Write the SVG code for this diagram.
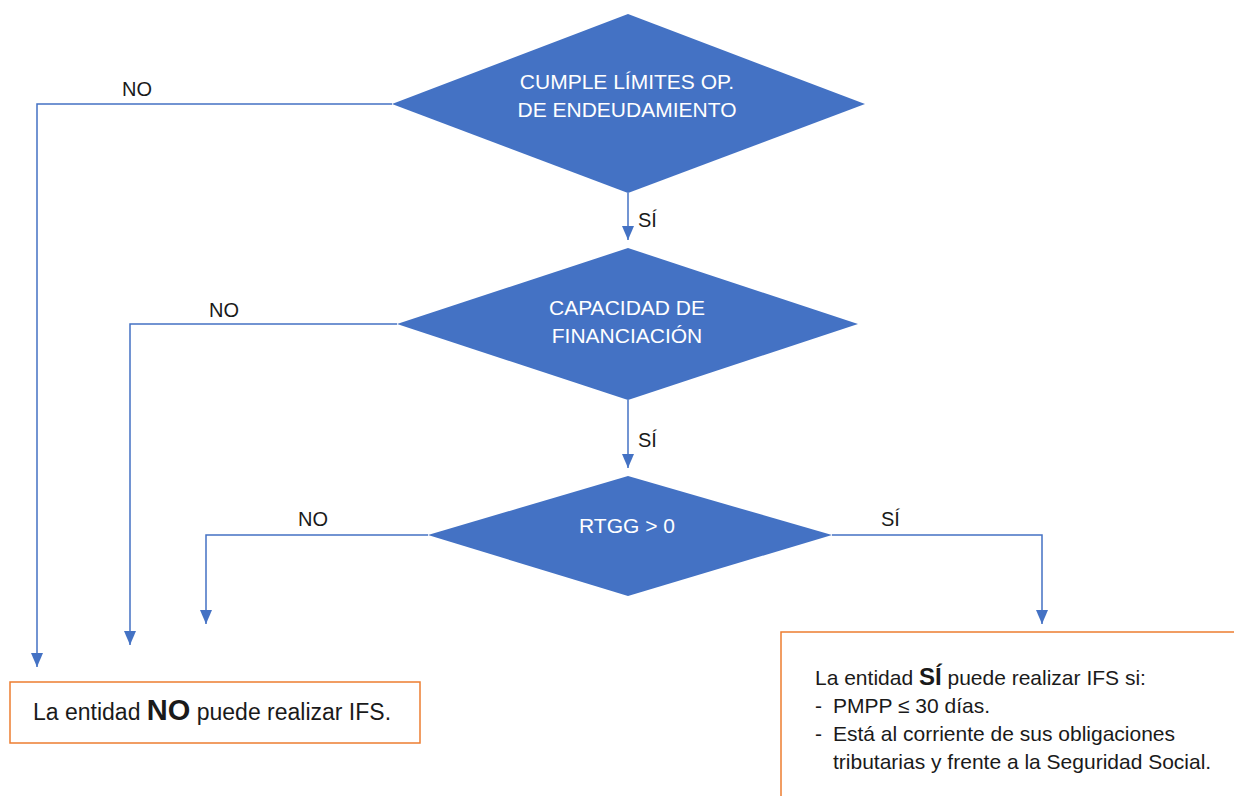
<svg xmlns="http://www.w3.org/2000/svg" width="1234" height="796" viewBox="0 0 1234 796">
<style>
.dia{fill:#4472C4;stroke:none}
.dt{font-family:"Liberation Sans",Arial,sans-serif;font-size:21px;fill:#ffffff;text-anchor:middle}
.con{fill:none;stroke:#4472C4;stroke-width:1.5}
.lab{font-family:"Liberation Sans",Arial,sans-serif;font-size:20px;fill:#1a1a1a}
.box{fill:#ffffff;stroke:#ED7D31;stroke-width:1.5}
.bt{font-family:"Liberation Sans",Arial,sans-serif;font-size:21px;fill:#1a1a1a}
.bt2{font-family:"Liberation Sans",Arial,sans-serif;font-size:23px;fill:#1a1a1a}
.big{font-weight:bold}
</style>
<defs>
<marker id="ah" markerUnits="userSpaceOnUse" markerWidth="14" markerHeight="14" viewBox="0 0 14 14" refX="14" refY="7" orient="auto">
<path d="M0,1 L14,7 L0,13 Z" fill="#4472C4"/>
</marker>
</defs>
<rect width="1234" height="796" fill="#ffffff"/>
<g id="connectors">
<polyline class="con" points="392,104 37,104 37,667" marker-end="url(#ah)"/>
<polyline class="con" points="628,193 628,240" marker-end="url(#ah)"/>
<polyline class="con" points="397,324 130,324 130,645" marker-end="url(#ah)"/>
<polyline class="con" points="628,400 628,468" marker-end="url(#ah)"/>
<polyline class="con" points="428,535 206,535 206,624" marker-end="url(#ah)"/>
<polyline class="con" points="832,535 1042,535 1042,624" marker-end="url(#ah)"/>
<text class="lab" x="122" y="96">NO</text>
<text class="lab" x="638" y="227">SÍ</text>
<text class="lab" x="209" y="317">NO</text>
<text class="lab" x="638" y="447">SÍ</text>
<text class="lab" x="298" y="526">NO</text>
<text class="lab" x="881" y="526">SÍ</text>
</g>
<g id="d1">
<polygon class="dia" points="628,14 865,104 628,193 392,104"/>
<text class="dt" x="627" y="89">CUMPLE LÍMITES OP.</text>
<text class="dt" x="627" y="117">DE ENDEUDAMIENTO</text>
</g>
<g id="d2">
<polygon class="dia" points="628,248 858,324 628,400 397,324"/>
<text class="dt" x="627" y="315">CAPACIDAD DE</text>
<text class="dt" x="627" y="343">FINANCIACIÓN</text>
</g>
<g id="d3">
<polygon class="dia" points="628,476 832,535 628,596 428,535"/>
<text class="dt" x="627" y="533">RTGG &gt; 0</text>
</g>
<g id="no_box">
<rect class="box" x="10" y="682" width="410" height="61"/>
<text class="bt2" x="33" y="720">La entidad <tspan class="big" font-size="29">NO</tspan> puede realizar IFS.</text>
</g>
<g id="si_box">
<rect class="box" x="781" y="632" width="470" height="180"/>
<text class="bt" x="815" y="685">La entidad <tspan class="big" font-size="24">SÍ</tspan> puede realizar IFS si:</text>
<text class="bt" x="815" y="713">-</text>
<text class="bt" x="833" y="713">PMPP ≤ 30 días.</text>
<text class="bt" x="815" y="741">-</text>
<text class="bt" x="833" y="741">Está al corriente de sus obligaciones</text>
<text class="bt" x="833" y="769">tributarias y frente a la Seguridad Social.</text>
</g>
</svg>
